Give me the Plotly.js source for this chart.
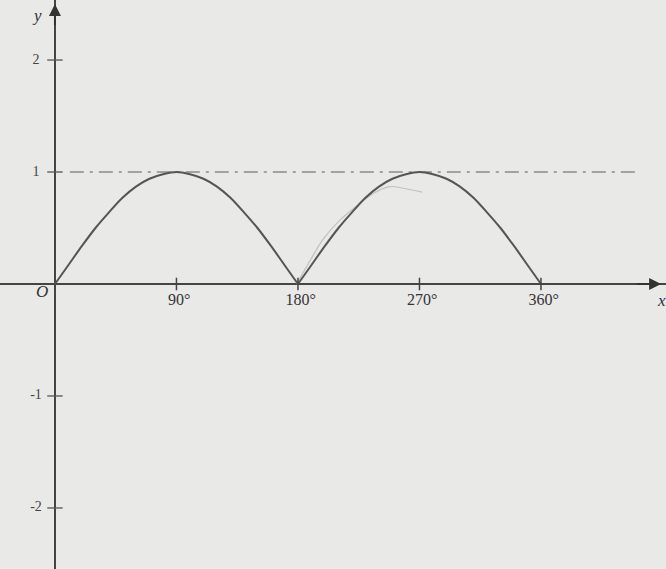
<!DOCTYPE html>
<html>
<head>
<meta charset="utf-8">
<script src="https://cdn.plot.ly/plotly-3.0.1.min.js"></script>
<style>html,body{margin:0;padding:0;background:#e9e9e7;}#chart{width:666px;height:569px;}</style>
</head>
<body>
<div id="chart"></div>
<script>
// Main curve y = |sin x| read every 10 degrees
const curveX = [0,10,20,30,40,50,60,70,80,90,100,110,120,130,140,150,160,170,180,190,200,210,220,230,240,250,260,270,280,290,300,310,320,330,340,350,360];
const curveY = [0,0.17,0.34,0.5,0.64,0.77,0.87,0.94,0.98,1,0.98,0.94,0.87,0.77,0.64,0.5,0.34,0.17,0,0.17,0.34,0.5,0.64,0.77,0.87,0.94,0.98,1,0.98,0.94,0.87,0.77,0.64,0.5,0.34,0.17,0];
// faint pencil stroke near the second arch
const faintX = [179,189,198,211,236,248,272];
const faintY = [0,0.21,0.39,0.57,0.81,0.87,0.82];
// dash-dot line y = 1
const refX = [11,433];
const refY = [1,1];
// ticks
const xTickVals = [90,180,270,360];
const xTickText = ['90°','180°','270°','360°'];
const yTickVals = [2,1,-1,-2];
const yTickText = ['2','1','-1','-2'];

const serif = 'Liberation Serif, Times New Roman, serif';
const ink = '#555555';

// split the curve at its cusp (index 18 -> 180°) so the smoothing keeps the corner sharp
const cusp = curveX.indexOf(180);
const arch1X = curveX.slice(0, cusp + 1), arch1Y = curveY.slice(0, cusp + 1);
const arch2X = curveX.slice(cusp), arch2Y = curveY.slice(cusp);

const traces = [
  {x: refX, y: refY, mode: 'lines', line: {color: '#8a8a8a', width: 1.6, dash: '14px,6px,3px,6px'}, hoverinfo: 'skip'},
  {x: faintX, y: faintY, mode: 'lines', line: {color: '#c2c2c0', width: 1.2, shape: 'spline', smoothing: 0.6}, hoverinfo: 'skip'},
  {x: arch1X, y: arch1Y, mode: 'lines', line: {color: ink, width: 2, shape: 'spline', smoothing: 0.8}, hoverinfo: 'skip'},
  {x: arch2X, y: arch2Y, mode: 'lines', line: {color: ink, width: 2, shape: 'spline', smoothing: 0.8}, hoverinfo: 'skip'},
  {x: xTickVals, y: xTickVals.map(() => 0), mode: 'markers', marker: {symbol: 'line-ns', size: 9, line: {color: '#444', width: 1.5}}, hoverinfo: 'skip'},
  {x: yTickVals.map(() => 0), y: yTickVals, mode: 'markers', marker: {symbol: 'line-ew', size: 11, line: {color: '#555', width: 1.3}}, hoverinfo: 'skip'},
  {x: xTickVals.map(v => v + 2), y: xTickVals.map(() => -0.15), mode: 'text', text: xTickText, textfont: {family: serif, size: 16, color: '#333'}, hoverinfo: 'skip'},
  {x: yTickVals.map(() => -14), y: yTickVals, mode: 'text', text: yTickText, textfont: {family: serif, size: 14, color: '#444'}, hoverinfo: 'skip'}
];

const layout = {
  width: 666, height: 569,
  margin: {l: 0, r: 0, t: 0, b: 0},
  paper_bgcolor: '#e9e9e7', plot_bgcolor: '#e9e9e7',
  showlegend: false,
  xaxis: {range: [-40.7, 452.6], showgrid: false, showticklabels: false, ticks: '', zeroline: true, zerolinecolor: '#444', zerolinewidth: 2, fixedrange: true},
  yaxis: {range: [-2.545, 2.536], showgrid: false, showticklabels: false, ticks: '', zeroline: true, zerolinecolor: '#444', zerolinewidth: 2, fixedrange: true},
  annotations: [
    {x: 449, y: 0, ax: 430, ay: 0, xref: 'x', yref: 'y', axref: 'x', ayref: 'y', text: '', showarrow: true, arrowhead: 2, arrowsize: 1.2, arrowwidth: 2, arrowcolor: '#333'},
    {x: 0, y: 2.5, ax: 0, ay: 2.3, xref: 'x', yref: 'y', axref: 'x', ayref: 'y', text: '', showarrow: true, arrowhead: 2, arrowsize: 1.2, arrowwidth: 2, arrowcolor: '#333'},
    {x: -9.5, y: -0.07, xref: 'x', yref: 'y', text: '<i>O</i>', showarrow: false, font: {family: serif, size: 17, color: '#333'}},
    {x: 449, y: -0.15, xref: 'x', yref: 'y', text: '<i>x</i>', showarrow: false, font: {family: serif, size: 17, color: '#333'}},
    {x: -13, y: 2.4, xref: 'x', yref: 'y', text: '<i>y</i>', showarrow: false, font: {family: serif, size: 17, color: '#333'}}
  ]
};

Plotly.newPlot('chart', traces, layout, {staticPlot: true, displayModeBar: false});
</script>
</body>
</html>
